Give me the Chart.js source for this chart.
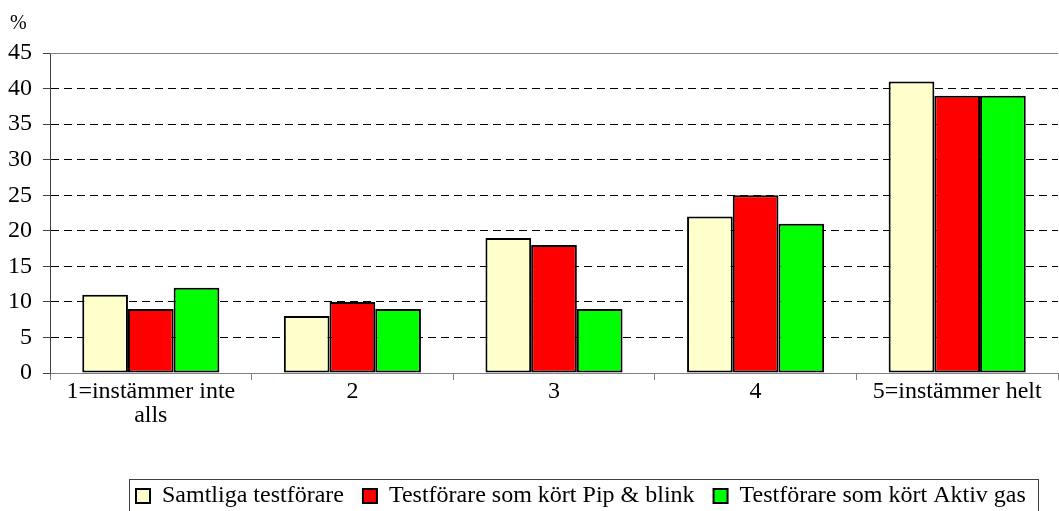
<!DOCTYPE html>
<html lang="sv">
<head>
  <meta charset="UTF-8" />
  <title>Instämmer</title>
  <script src="https://cdn.jsdelivr.net/npm/chart.js"></script>
  <style>
    body { margin: 0; background: #fff; }
    .wrap { width: 1059px; height: 511px; }
  </style>
</head>
<body>
  <div class="wrap"><canvas id="chart" width="1059" height="511"></canvas></div>
  <script>
    const categories = [['1=instämmer inte', 'alls'], '2', '3', '4', '5=instämmer helt'];
    const seriesNames = ['Samtliga testförare', 'Testförare som kört Pip & blink', 'Testförare som kört Aktiv gas'];
    const samtliga = [11, 8, 19, 22, 41];
    const pipBlink = [9, 10, 18, 25, 39];
    const aktivGas = [12, 9, 9, 21, 39];
    const yTicks = [0, 5, 10, 15, 20, 25, 30, 35, 40, 45];
    const colors = ['#ffffcc', '#ff0000', '#00ff00'];

    const serif = "'Liberation Serif', 'Times New Roman', serif";
    const font = { family: serif, size: 24, lineHeight: 1 };

    const LEGEND_LEFT = 136; // where the first legend box starts
    const LEGEND_PAD = 19;

    // legend starts at a fixed x (align: 'start' uses left + padding)
    const legendShift = {
      id: 'legendShift',
      afterLayout(chart) {
        const lg = chart.legend;
        if (lg) lg.left = LEGEND_LEFT - LEGEND_PAD;
      }
    };

    // "%" unit label, solid top line and legend frame
    const extras = {
      id: 'extras',
      afterDraw(chart) {
        const { ctx, chartArea } = chart;
        ctx.save();
        ctx.strokeStyle = '#808080';
        ctx.lineWidth = 1;
        ctx.beginPath();
        ctx.moveTo(chartArea.left, chartArea.top + 0.5);
        ctx.lineTo(chartArea.right, chartArea.top + 0.5);
        ctx.stroke();

        ctx.fillStyle = '#000';
        ctx.font = '20px ' + serif;
        ctx.fillText('%', 10, 24);

        const lg = chart.legend;
        if (lg && lg.legendHitBoxes.length) {
          const boxes = lg.legendHitBoxes;
          const last = boxes[boxes.length - 1];
          const x0 = boxes[0].left - 7;
          const x1 = last.left + last.width + 12;
          const y0 = boxes[0].top - 5;
          const y1 = boxes[0].top + boxes[0].height + 5;
          ctx.strokeStyle = '#404040';
          ctx.strokeRect(Math.round(x0) + 0.5, Math.round(y0) + 0.5, Math.round(x1 - x0), Math.round(y1 - y0));
        }
        ctx.restore();
      }
    };

    new Chart(document.getElementById('chart'), {
      type: 'bar',
      data: {
        labels: categories,
        datasets: [
          { label: seriesNames[0], data: samtliga, backgroundColor: colors[0] },
          { label: seriesNames[1], data: pipBlink, backgroundColor: colors[1] },
          { label: seriesNames[2], data: aktivGas, backgroundColor: colors[2] }
        ].map(d => Object.assign(d, {
          borderColor: '#000', borderWidth: 2, borderSkipped: false,
          categoryPercentage: 0.68, barPercentage: 1
        }))
      },
      options: {
        responsive: false,
        animation: false,
        layout: { padding: { top: 53, right: 1, left: 0, bottom: -7 } },
        plugins: {
          tooltip: { enabled: false },
          legend: {
            position: 'bottom',
            align: 'start',
            labels: {
              font: font, color: '#000',
              boxWidth: 14, boxHeight: 14, padding: LEGEND_PAD,
              generateLabels(chart) {
                return chart.data.datasets.map((d, i) => ({
                  text: d.label, fillStyle: d.backgroundColor, strokeStyle: '#000',
                  lineWidth: 2, datasetIndex: i, fontColor: '#000'
                }));
              }
            }
          }
        },
        scales: {
          x: {
            offset: true,
            grid: { offset: true, drawOnChartArea: false, tickLength: 7, color: '#808080' },
            border: { color: '#808080', width: 1 },
            ticks: { font: font, color: '#000', padding: 0, maxRotation: 0, autoSkip: false },
            afterFit(scale) { scale.height = 92; }
          },
          y: {
            min: 0, max: 45,
            afterBuildTicks(scale) { scale.ticks = yTicks.map(v => ({ value: v })); },
            grid: { color: '#000', tickLength: 7, tickColor: '#404040' },
            border: { color: '#404040', width: 1, dash: [8, 5] },
            ticks: { font: font, color: '#000', padding: 11 },
            afterFit(scale) { scale.width = 50; }
          }
        }
      },
      plugins: [legendShift, extras]
    });
  </script>
</body>
</html>
